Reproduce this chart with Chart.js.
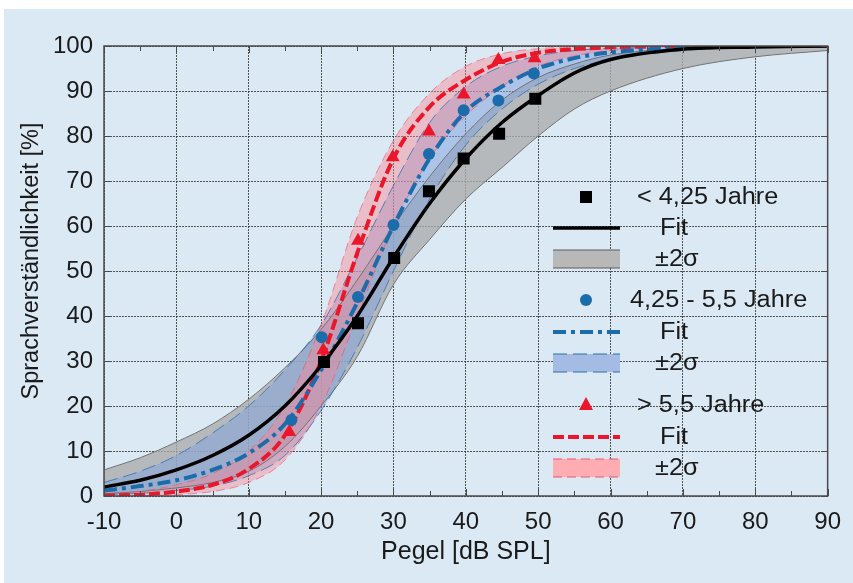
<!DOCTYPE html>
<html>
<head>
<meta charset="utf-8">
<script src="https://cdn.jsdelivr.net/npm/chart.js@4.4.1/dist/chart.umd.min.js"></script>
<style>
  html, body { margin: 0; padding: 0; background: #fff; }
  #wrap { position: relative; width: 853px; height: 583px; overflow: hidden; }
  #bg { position: absolute; left: 4px; top: 9px; right: 0; bottom: 0; background: #dbe9f5; }
  #myChart { position: absolute; left: 0; top: 0; }
</style>
</head>
<body>
<div id="wrap">
  <div id="bg"></div>
  <canvas id="myChart" width="853" height="583"></canvas>
</div>
<script>
// x positions of the fit curves and bands (dB SPL)
const pegel = [-10, -5, 0, 5, 10, 15, 20, 25, 30, 35, 40, 45, 50, 55, 60, 70, 80, 90];

// < 4,25 Jahre
const fitYoung = [2, 3.5, 5.8, 9, 13.5, 20, 29, 40, 53, 65, 75, 83, 89, 94, 97, 99.3, 99.8, 100];
const bandYoungUpper = [5.8, 8.5, 12, 16, 21.5, 28.5, 37, 48, 60, 71, 80.5, 88, 93, 96, 98, 99.5, 100, 100];
const bandYoungLower = [0.5, 1, 1.8, 3, 5.5, 11, 20, 31, 47, 57, 66, 73, 80, 86, 90, 95, 97.6, 99];

// 4,25 - 5,5 Jahre
const fitMid = [1.2, 2.2, 3.5, 5.8, 9.5, 16, 28, 43, 60, 75, 85.5, 91, 95, 97.3, 98.6, 99.6, 100, 100];
const bandMidUpper = [3, 5.5, 9, 14, 20, 28, 38, 53, 69, 83, 91, 95.5, 97.8, 99, 99.5, 100, 100, 100];
const bandMidLower = [0.3, 0.6, 1.2, 2.2, 4.5, 9, 19, 33, 50, 66, 78, 86, 91.5, 95, 97, 99, 99.7, 100];

// > 5,5 Jahre
const fitOld = [0.1, 0.3, 1, 2.5, 6, 13.5, 30, 54, 75, 86.5, 92.5, 96.5, 98.5, 99.3, 99.7, 100, 100, 100];
const bandOldUpper = [0.3, 1, 2.5, 5, 10, 20, 38, 62, 79, 89.5, 95.5, 98.3, 99.4, 99.8, 100, 100, 100, 100];
const bandOldLower = [0, 0.1, 0.3, 1, 3, 8, 20, 40, 60, 75, 84.5, 91, 95.5, 97.8, 99, 99.7, 100, 100];

// measured points
const pegelYoung = [20.4, 25.1, 30.1, 34.9, 39.7, 44.6, 49.6];
const scoreYoung = [29.8, 38.4, 52.9, 67.7, 75.0, 80.5, 88.3];
const pegelMid = [15.9, 20.1, 25.1, 30.0, 34.9, 39.7, 44.5, 49.4];
const scoreMid = [16.9, 35.3, 44.2, 60.2, 76.0, 85.7, 87.9, 93.9];
const pegelOld = [15.6, 20.3, 25.1, 29.9, 34.9, 39.7, 44.5, 49.5];
const scoreOld = [14.2, 32.4, 56.7, 75.3, 81.0, 89.2, 96.9, 97.3];

const xTicks = [-10, 0, 10, 20, 30, 40, 50, 60, 70, 80, 90];
const yTicks = [0, 10, 20, 30, 40, 50, 60, 70, 80, 90, 100];

const BLACK = '#000000';
const BLUE = 'rgb(28, 108, 172)';
const RED = 'rgb(236, 22, 42)';
const TEXT = '#1a1a1a';
const FONT = '"Liberation Sans", Arial, sans-serif';

function toXY(xs, ys) {
  return xs.map((x, i) => ({ x: x, y: ys[i] }));
}

function pointSet(xs, ys, style, color, radius) {
  return {
    data: toXY(xs, ys),
    showLine: false,
    pointStyle: style,
    pointRadius: radius,
    backgroundColor: color,
    borderColor: color,
    borderWidth: 0,
    order: 0
  };
}

function fitSet(ys, color, dash, width) {
  return {
    data: toXY(pegel, ys),
    borderColor: color,
    borderWidth: width,
    borderDash: dash,
    pointRadius: 0,
    cubicInterpolationMode: 'monotone',
    fill: false,
    order: 1
  };
}

function edgeSet(ys, color, dash, order, fillTarget, fillColor) {
  return {
    data: toXY(pegel, ys),
    borderColor: color,
    borderWidth: 1,
    borderDash: dash,
    pointRadius: 0,
    cubicInterpolationMode: 'monotone',
    fill: fillTarget === null ? false : { target: fillTarget },
    backgroundColor: fillColor || 'transparent',
    order: order
  };
}

const datasets = [
  pointSet(pegelYoung, scoreYoung, 'rect', BLACK, 8.5),                       // 0
  pointSet(pegelMid, scoreMid, 'circle', BLUE, 6),                             // 1
  pointSet(pegelOld, scoreOld, 'triangle', RED, 8),                            // 2
  fitSet(fitYoung, BLACK, [], 3.5),                                            // 3
  fitSet(fitMid, BLUE, [13, 5, 4, 5], 4),                                      // 4
  fitSet(fitOld, RED, [11, 4], 4),                                             // 5
  edgeSet(bandYoungUpper, 'rgb(115,115,115)', [], 6, 7, 'rgba(172,172,172,0.78)'),   // 6
  edgeSet(bandYoungLower, 'rgb(115,115,115)', [], 6, null),                          // 7
  edgeSet(bandMidUpper, 'rgba(40,110,170,0.75)', [14, 6], 4, 9, 'rgba(125,160,220,0.5)'), // 8
  edgeSet(bandMidLower, 'rgba(40,110,170,0.75)', [14, 6], 4, null),                  // 9
  edgeSet(bandOldUpper, 'rgba(235,80,100,0.6)', [9, 5], 2, 11, 'rgba(255,130,140,0.42)'), // 10
  edgeSet(bandOldLower, 'rgba(235,80,100,0.6)', [9, 5], 2, null)                     // 11
];

// legend rows: symbol, label, text start and y centre
const legendRows = [
  { kind: 'rect', color: BLACK, text: '< 4,25 Jahre', tx: 637, y: 197 },
  { kind: 'line', color: BLACK, dash: [], width: 3.5, text: 'Fit', tx: 660, y: 228 },
  { kind: 'box', fill: 'rgb(184,184,184)', edge: 'rgb(90,90,90)', dash: [], text: '\u00b12\u03c3', tx: 655, y: 259 },
  { kind: 'circle', color: BLUE, text: '4,25 - 5,5 Jahre', tx: 630, y: 300 },
  { kind: 'line', color: BLUE, dash: [13, 5, 4, 5], width: 4, text: 'Fit', tx: 660, y: 332 },
  { kind: 'box', fill: 'rgb(164,188,228)', edge: 'rgb(40,110,170)', dash: [14, 6], text: '\u00b12\u03c3', tx: 655, y: 363 },
  { kind: 'triangle', color: RED, text: '> 5,5 Jahre', tx: 637, y: 405 },
  { kind: 'line', color: RED, dash: [11, 4], width: 4, text: 'Fit', tx: 660, y: 437 },
  { kind: 'box', fill: 'rgb(255,172,178)', edge: 'rgb(232,90,110)', dash: [9, 5], text: '\u00b12\u03c3', tx: 655, y: 468 }
];

const legendPlugin = {
  id: 'insideLegend',
  afterDatasetsDraw(chart) {
    const ctx = chart.ctx;
    const x0 = 553;
    const x1 = 620;
    const mx = 586;
    ctx.save();
    legendRows.forEach((row) => {
      ctx.setLineDash([]);
      if (row.kind === 'rect') {
        ctx.fillStyle = row.color;
        ctx.fillRect(mx - 6, row.y - 6, 12, 12);
      } else if (row.kind === 'circle') {
        ctx.fillStyle = row.color;
        ctx.beginPath();
        ctx.arc(mx, row.y, 6, 0, Math.PI * 2);
        ctx.fill();
      } else if (row.kind === 'triangle') {
        ctx.fillStyle = row.color;
        ctx.beginPath();
        ctx.moveTo(mx, row.y - 8);
        ctx.lineTo(mx + 7, row.y + 5);
        ctx.lineTo(mx - 7, row.y + 5);
        ctx.closePath();
        ctx.fill();
      } else if (row.kind === 'line') {
        ctx.strokeStyle = row.color;
        ctx.lineWidth = row.width;
        ctx.setLineDash(row.dash);
        ctx.beginPath();
        ctx.moveTo(x0, row.y);
        ctx.lineTo(x1, row.y);
        ctx.stroke();
      } else if (row.kind === 'box') {
        ctx.fillStyle = row.fill;
        ctx.fillRect(x0, row.y - 9, x1 - x0, 18);
        ctx.strokeStyle = row.edge;
        ctx.lineWidth = 1;
        ctx.setLineDash(row.dash);
        ctx.beginPath();
        ctx.moveTo(x0, row.y - 9);
        ctx.lineTo(x1, row.y - 9);
        ctx.moveTo(x0, row.y + 9);
        ctx.lineTo(x1, row.y + 9);
        ctx.stroke();
      }
      ctx.setLineDash([]);
      ctx.save();
      ctx.translate(row.tx, row.y + 1);
      ctx.scale(1.1, 1);
      ctx.fillStyle = TEXT;
      ctx.font = '23px ' + FONT;
      ctx.textAlign = 'left';
      ctx.textBaseline = 'middle';
      ctx.fillText(row.text, 0, 0);
      ctx.restore();
    });
    ctx.restore();
  }
};

// box around the plot, small inward tick marks and the y title
const framePlugin = {
  id: 'frame',
  afterDraw(chart) {
    const { ctx, chartArea: a, scales } = chart;
    ctx.save();
    ctx.strokeStyle = '#4a4a4a';
    ctx.lineWidth = 1.5;
    ctx.setLineDash([]);
    ctx.strokeRect(a.left, a.top, a.right - a.left, a.bottom - a.top);
    ctx.lineWidth = 1;
    ctx.beginPath();
    for (let v = -10; v <= 90; v += 5) {
      const px = Math.round(scales.x.getPixelForValue(v)) + 0.5;
      const len = v % 10 === 0 ? 7 : 5;
      ctx.moveTo(px, a.bottom);
      ctx.lineTo(px, a.bottom - len);
      ctx.moveTo(px, a.top);
      ctx.lineTo(px, a.top + len);
    }
    yTicks.forEach((v) => {
      const py = Math.round(scales.y.getPixelForValue(v)) + 0.5;
      ctx.moveTo(a.left, py);
      ctx.lineTo(a.left + 6, py);
      ctx.moveTo(a.right, py);
      ctx.lineTo(a.right - 6, py);
    });
    ctx.stroke();

    ctx.translate(32, 261);
    ctx.rotate(-Math.PI / 2);
    ctx.fillStyle = TEXT;
    ctx.font = '23.5px ' + FONT;
    ctx.textAlign = 'center';
    ctx.textBaseline = 'middle';
    ctx.fillText('Sprachverst\u00e4ndlichkeit [%]', 0, 0);
    ctx.restore();
  }
};

const gridStyle = {
  color: 'rgba(45,45,45,0.8)',
  lineWidth: 1,
  drawTicks: false
};

document.addEventListener('DOMContentLoaded', () => {
  const target = document.querySelector('#myChart');
  new Chart(target, {
    type: 'line',
    data: { datasets: datasets },
    options: {
      responsive: false,
      animation: false,
      devicePixelRatio: 1,
      layout: { padding: { top: 46, right: 21, left: 0, bottom: 0 } },
      plugins: {
        legend: { display: false },
        tooltip: { enabled: false },
        filler: { drawTime: 'beforeDatasetsDraw' }
      },
      scales: {
        x: {
          type: 'linear',
          min: -10,
          max: 90,
          afterBuildTicks: (s) => { s.ticks = xTicks.map((v) => ({ value: v })); },
          afterFit: (s) => { s.height = 87; },
          grid: gridStyle,
          border: { display: false, dash: [2, 1] },
          ticks: {
            padding: 12,
            color: TEXT,
            font: { family: FONT, size: 24 },
            maxRotation: 0
          },
          title: {
            display: true,
            text: 'Pegel [dB SPL]',
            color: TEXT,
            font: { family: FONT, size: 25 },
            padding: { top: 0, bottom: 16 }
          }
        },
        y: {
          type: 'linear',
          min: 0,
          max: 100,
          afterBuildTicks: (s) => { s.ticks = yTicks.map((v) => ({ value: v })); },
          afterFit: (s) => { s.width = 104; },
          grid: gridStyle,
          border: { display: false, dash: [2, 1] },
          ticks: {
            padding: 11,
            color: TEXT,
            font: { family: FONT, size: 24 }
          }
        }
      }
    },
    plugins: [legendPlugin, framePlugin]
  });
});
</script>
</body>
</html>
